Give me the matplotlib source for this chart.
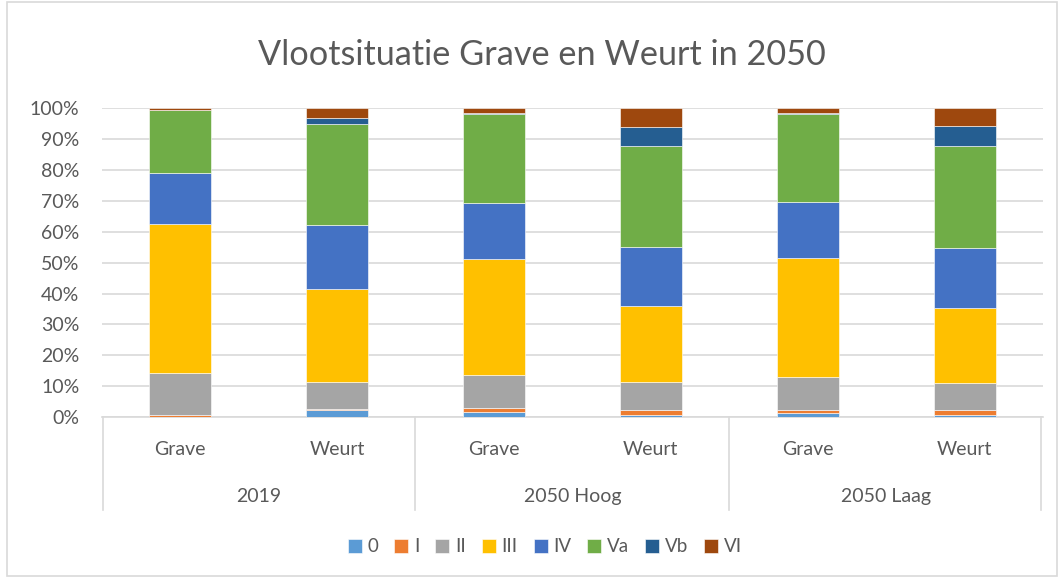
import numpy as np
import matplotlib.pyplot as plt
from matplotlib.patches import Rectangle
import matplotlib.transforms as mtransforms

plt.rcParams['font.family'] = ['Lato', 'DejaVu Sans']

groups = ['2019', '2050 Hoog', '2050 Laag']
places = ['Grave', 'Weurt', 'Grave', 'Weurt', 'Grave', 'Weurt']
classes = ['0', 'I', 'II', 'III', 'IV', 'Va', 'Vb', 'VI']

# share per class (%), one column per bar
s0 = [0.0, 2.3, 1.6, 0.5, 1.4, 0.5]
s1 = [0.7, 0.4, 1.3, 1.9, 0.9, 1.7]
s2 = [13.6, 8.7, 10.6, 9.0, 10.6, 8.8]
s3 = [48.3, 30.1, 37.7, 24.7, 38.6, 24.4]
s4 = [16.5, 20.7, 18.0, 19.1, 18.0, 19.5]
s5 = [20.3, 32.7, 28.9, 32.5, 28.6, 33.0]
s6 = [0.2, 1.9, 0.3, 6.2, 0.3, 6.5]
s7 = [0.4, 3.2, 1.6, 6.1, 1.6, 5.6]

colors = ['#5B9BD5', '#ED7D31', '#A5A5A5', '#FFC000', '#4472C4',
          '#70AD47', '#255E91', '#9E480E']
txt = '#595959'

data = np.array([s0, s1, s2, s3, s4, s5, s6, s7])
data = data / data.sum(axis=0)

fig = plt.figure(figsize=(10.6, 5.78), dpi=100)
ax = fig.add_axes([0.0958, 0.2785, 0.8882, 0.5341])

x = np.arange(len(places))
bottom = np.zeros(len(places))
handles = []
for i, c in enumerate(classes):
    b = ax.bar(x, data[i], 0.395, bottom=bottom, color=colors[i],
               edgecolor='white', linewidth=0.4, label=c, zorder=3)
    handles.append(b)
    bottom += data[i]

ax.set_xlim(-0.5, 5.5)
ax.set_ylim(0, 1)
ax.set_yticks(np.arange(0, 1.01, 0.1))
ax.set_yticklabels([f'{int(v)}%' for v in range(0, 101, 10)])
ax.yaxis.grid(True, color='#D9D9D9', linewidth=1.2, zorder=0)
ax.tick_params(axis='y', length=0, labelsize=14, colors=txt, pad=16)
ax.tick_params(axis='x', length=0)
ax.set_xticks([])
for sp in ['top', 'right', 'left']:
    ax.spines[sp].set_visible(False)
ax.spines['bottom'].set_color('#D9D9D9')
ax.spines['bottom'].set_linewidth(1.2)

trans = mtransforms.blended_transform_factory(ax.transData, ax.transAxes)
for xi, p in zip(x, places):
    ax.text(xi, -0.105, p, transform=trans, ha='center', va='center',
            fontsize=14, color=txt)
for gi, g in enumerate(groups):
    ax.text(2 * gi + 0.5, -0.256, g, transform=trans, ha='center',
            va='center', fontsize=14, color=txt)
for xb in [-0.49, 1.5, 3.5, 5.49]:
    ax.plot([xb, xb], [0, -0.301], transform=trans, color='#D9D9D9',
            linewidth=1.2, clip_on=False)

fig.text(0.511, 1 - 55 / 578, 'Vlootsituatie Grave en Weurt in 2050',
         ha='center', va='center', fontsize=24.7, color=txt)

fig.legend(handles=handles, labels=classes, loc='center',
           bbox_to_anchor=(0.514, 1 - 547 / 578), ncol=8, frameon=False,
           handlelength=0.75, handleheight=0.75, handletextpad=0.3,
           columnspacing=0.85, fontsize=13.5, labelcolor=txt)

fig.patches.append(Rectangle((0.007, 0.003), 0.99, 0.994,
                             transform=fig.transFigure, fill=False,
                             edgecolor='#D9D9D9', linewidth=1.2))

fig.savefig('out.png', dpi=100)
